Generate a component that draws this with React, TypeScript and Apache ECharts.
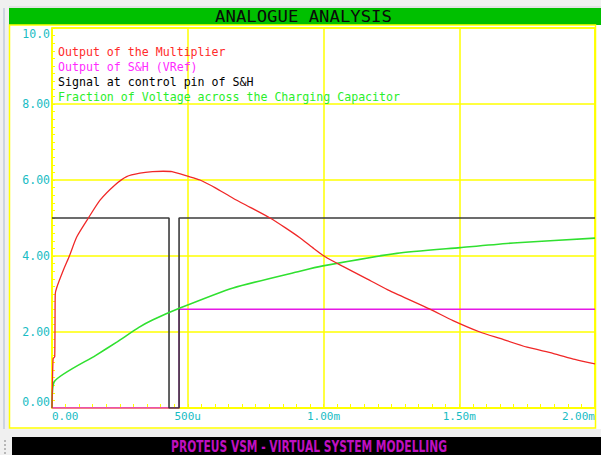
import React, { useEffect, useRef } from "react";
import * as echarts from "echarts";

// ---- data (time in ms, values in volts) ----
const xTickLabels = ["0.00", "500u", "1.00m", "1.50m", "2.00m"];
const yTickLabels = ["0.00", "2.00", "4.00", "6.00", "8.00", "10.0"];

const seriesNames = [
  "Output of the Multiplier",
  "Output of S&H (VRef)",
  "Signal at control pin of S&H",
  "Fraction of Voltage across the Charging Capacitor",
];

const redT = [0, 0.004, 0.01, 0.012, 0.017, 0.042, 0.064, 0.091, 0.134, 0.177, 0.232, 0.275, 0.324, 0.37, 0.41, 0.442, 0.5, 0.545, 0.6, 0.667, 0.73, 0.803, 0.86, 0.913, 0.96, 1.006, 1.068, 1.16, 1.245, 1.392, 1.477, 1.576, 1.65, 1.75, 1.845, 1.926, 2.0];
const redV = [0, 1.3, 1.35, 3.0, 3.16, 3.63, 4.0, 4.5, 5.0, 5.47, 5.87, 6.09, 6.18, 6.22, 6.23, 6.22, 6.1, 6.0, 5.8, 5.52, 5.28, 5.0, 4.74, 4.48, 4.22, 3.98, 3.74, 3.4, 3.08, 2.6, 2.3, 2.0, 1.83, 1.6, 1.44, 1.28, 1.16];

const magT = [0, 0.468, 0.468, 2.0];
const magV = [0, 0, 2.6, 2.6];

const blackT = [0, 0.431, 0.431, 0.468, 0.468, 2.0];
const blackV = [5, 5, 0, 0, 5, 5];

const greenT = [0, 0.008, 0.16, 0.24, 0.32, 0.372, 0.471, 0.667, 0.913, 0.998, 1.27, 1.503, 1.713, 2.0];
const greenV = [0, 0.69, 1.38, 1.74, 2.12, 2.32, 2.63, 3.16, 3.6, 3.74, 4.07, 4.22, 4.35, 4.47];

const colors = ["#f02828", "#e619e6", "#3c3c3c", "#30e030"];
const legendColors = ["#ff2a2a", "#ff2aff", "#000000", "#2aee2a"];

const zip = (t: number[], v: number[]) => t.map((x, i) => [x, v[i]]);

const YELLOW = "#ffff00";
const CYAN = "#18bcc4";
const MONO = '"DejaVu Sans Mono", monospace';

function measure(text: string, font: string): number {
  const c = document.createElement("canvas").getContext("2d");
  if (!c) return text.length * 8;
  c.font = font;
  return c.measureText(text).width;
}

export default function App() {
  const ref = useRef<HTMLDivElement>(null);
  useEffect(() => {
    if (!ref.current) return;
    const chart = echarts.init(ref.current, undefined, { renderer: "svg" });

    const title = "ANALOGUE ANALYSIS";
    const titleFont = `15px "DejaVu Sans Mono"`;
    const titleScale = 177 / measure(title, titleFont);
    const footer = "PROTEUS VSM - VIRTUAL SYSTEM MODELLING";
    const footerFont = `bold 16px "DejaVu Sans"`;
    const footerScale = 276 / measure(footer, footerFont);

    const series = [
      { name: seriesNames[1], data: zip(magT, magV), color: colors[1], width: 1.4, smooth: 0 },
      { name: seriesNames[2], data: zip(blackT, blackV), color: colors[2], width: 1.6, smooth: 0 },
      { name: seriesNames[3], data: zip(greenT, greenV), color: colors[3], width: 1.6, smooth: 0.2 },
      { name: seriesNames[0], data: zip(redT, redV), color: colors[0], width: 1.3, smooth: 0.2 },
    ].map((s) => ({
      type: "line",
      name: s.name,
      data: s.data,
      showSymbol: false,
      symbol: "none",
      smooth: s.smooth > 0 ? s.smooth : false,
      lineStyle: { color: s.color, width: s.width },
      itemStyle: { color: s.color },
    }));

    const legendTexts = seriesNames.map((n, i) => ({
      type: "text",
      x: 58,
      y: 52 + i * 15,
      style: {
        text: n,
        fill: legendColors[i],
        fontSize: 11.6,
        fontFamily: MONO,
        align: "left",
        verticalAlign: "middle",
      },
      z: 10,
    }));

    chart.setOption({
      animation: false,
      backgroundColor: "#ffffff",
      grid: {
        left: 52,
        right: 6,
        top: 28,
        bottom: 47,
        show: true,
        borderColor: YELLOW,
        borderWidth: 1.5,
        backgroundColor: "transparent",
      },
      xAxis: {
        type: "value",
        min: 0,
        max: 2,
        interval: 0.5,
        axisLine: { show: true, lineStyle: { color: YELLOW, width: 1.5 } },
        axisTick: { show: true, inside: true, length: 4, lineStyle: { color: YELLOW, width: 1 } },
        minorTick: { show: true, splitNumber: 10, length: 4, lineStyle: { color: YELLOW, width: 1 } },
        splitLine: { show: true, lineStyle: { color: YELLOW, width: 1.5 } },
        axisLabel: {
          color: CYAN,
          fontSize: 11,
          fontFamily: MONO,
          margin: 3,
          alignMinLabel: "left",
          alignMaxLabel: "right",
          formatter: (v: number) => xTickLabels[Math.round(v / 0.5)] ?? "",
        },
      },
      yAxis: {
        type: "value",
        min: 0,
        max: 10,
        interval: 2,
        axisLine: { show: true, lineStyle: { color: YELLOW, width: 1.5 } },
        axisTick: { show: true, inside: true, length: 3, lineStyle: { color: YELLOW, width: 1 } },
        minorTick: { show: true, splitNumber: 10, length: 3, lineStyle: { color: YELLOW, width: 1 } },
        splitLine: { show: true, lineStyle: { color: YELLOW, width: 1.5 } },
        axisLabel: {
          color: CYAN,
          fontSize: 11.5,
          fontFamily: MONO,
          margin: 2,
          verticalAlignMinLabel: "bottom",
          verticalAlignMaxLabel: "top",
          formatter: (v: number) => yTickLabels[Math.round(v / 2)] ?? "",
        },
      },
      series,
      graphic: [
        // window chrome
        { type: "rect", shape: { x: 0, y: 0, width: 601, height: 8 }, style: { fill: "#f0f0f0" }, z: 1 },
        { type: "rect", shape: { x: 0, y: 6, width: 601, height: 2 }, style: { fill: "#e3e3e3" }, z: 1 },
        { type: "rect", shape: { x: 0, y: 0, width: 9, height: 455 }, style: { fill: "#f0f0f0" }, z: 1 },
        { type: "rect", shape: { x: 3, y: 8, width: 2, height: 422 }, style: { fill: "#cdd5e1" }, z: 1 },
        { type: "rect", shape: { x: 0, y: 429, width: 601, height: 26 }, style: { fill: "#f0f0f0" }, z: 1 },
        { type: "rect", shape: { x: 12, y: 437, width: 589, height: 18 }, style: { fill: "#000000" }, z: 1 },
        ...[440, 444, 448, 452].map((yy) => ({
          type: "rect",
          shape: { x: 4, y: yy, width: 2, height: 2 },
          style: { fill: "#b8b8b8" },
          z: 1,
        })),
        // green title bar
        { type: "rect", shape: { x: 9, y: 8, width: 592, height: 17 }, style: { fill: "#00c000" }, z: 1 },
        {
          type: "text",
          x: 303.5,
          y: 17,
          scaleX: titleScale,
          style: {
            text: title,
            fill: "#0a0a0a",
            font: titleFont,
            align: "center",
            verticalAlign: "middle",
          },
          z: 5,
        },
        // outer yellow frame
        {
          type: "rect",
          shape: { x: 9.5, y: 25, width: 586, height: 403 },
          style: { fill: null, stroke: YELLOW, lineWidth: 1.5 },
          z: 1,
        },
        // footer text
        {
          type: "text",
          x: 309,
          y: 446,
          scaleX: footerScale,
          style: {
            text: footer,
            fill: "#c010c0",
            font: footerFont,
            align: "center",
            verticalAlign: "middle",
          },
          z: 5,
        },
        ...legendTexts,
      ],
    });
    return () => chart.dispose();
  }, []);

  return (
    <div
      ref={ref}
      style={{ position: "fixed", left: 0, top: 0, width: 601, height: 455 }}
    />
  );
}
